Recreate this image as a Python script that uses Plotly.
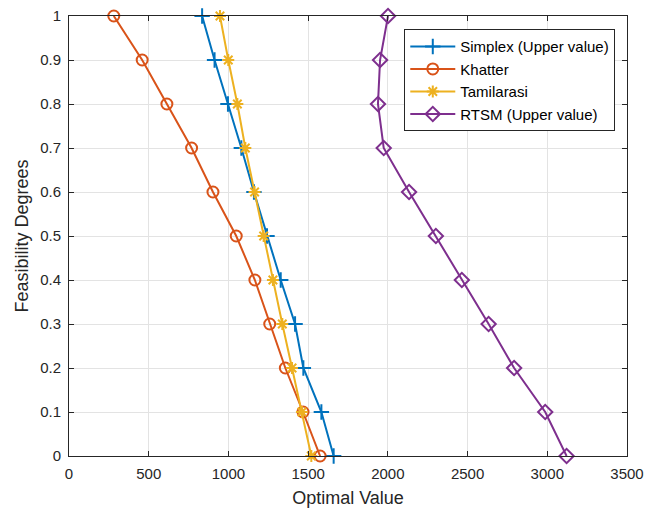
import plotly.graph_objects as go

feas = [1.0, 0.9, 0.8, 0.7, 0.6, 0.5, 0.4, 0.3, 0.2, 0.1, 0.0]
simplex = [835, 913, 997, 1081, 1160, 1242, 1328, 1418, 1470, 1583, 1660]
khatter = [281, 459, 614, 769, 903, 1049, 1166, 1259, 1357, 1468, 1575]
tamilarasi = [947, 999, 1056, 1106, 1164, 1221, 1279, 1338, 1399, 1461, 1520]
rtsm = [2001, 1951, 1938, 1974, 2133, 2301, 2464, 2632, 2792, 2987, 3121]

names = ["Simplex (Upper value)", "Khatter", "Tamilarasi", "RTSM (Upper value)"]
colors = ["#0072BD", "#D95319", "#EDB120", "#7E2F8E"]
symbols = ["cross-thin-open", "circle-open", "asterisk-open", "diamond-open"]
sizes = [11, 11, 10, 11]
series = [simplex, khatter, tamilarasi, rtsm]

fig = go.Figure()
for name, vals, c, s, sz in zip(names, series, colors, symbols, sizes):
    fig.add_trace(go.Scatter(
        x=vals, y=feas, mode="lines+markers", name=name, cliponaxis=False,
        line=dict(color=c, width=2),
        marker=dict(symbol=s, size=sz, color=c, line=dict(color=c, width=2)),
    ))

axis_common = dict(
    showgrid=True, gridcolor="#e3e3e3", gridwidth=1,
    showline=True, linecolor="#262626", linewidth=1, mirror="ticks",
    ticks="inside", ticklen=5, tickcolor="#262626", automargin=False,
    tickfont=dict(family="Liberation Sans, Arial, sans-serif", size=15, color="#262626"),
    zeroline=False,
)

fig.update_layout(
    width=659, height=508,
    margin=dict(l=69, r=32, t=16, b=52),
    paper_bgcolor="white", plot_bgcolor="white",
    font=dict(family="Liberation Sans, Arial, sans-serif", color="#262626"),
    xaxis=dict(range=[0, 3500], dtick=500, tick0=0, ticklabelstandoff=4,
               title=dict(text="Optimal Value", font=dict(size=18), standoff=10),
               **axis_common),
    yaxis=dict(range=[0, 1], dtick=0.1, tick0=0, ticklabelstandoff=4,
               title=dict(text="Feasibility Degrees", font=dict(size=18), standoff=6),
               **axis_common),
    legend=dict(x=0.979, y=0.97, xanchor="right", yanchor="top",
                bgcolor="white", bordercolor="#262626", borderwidth=1,
                font=dict(size=15, color="#000000"),
                tracegroupgap=0, itemwidth=45),
    showlegend=True,
)

fig.write_html("out.html")
